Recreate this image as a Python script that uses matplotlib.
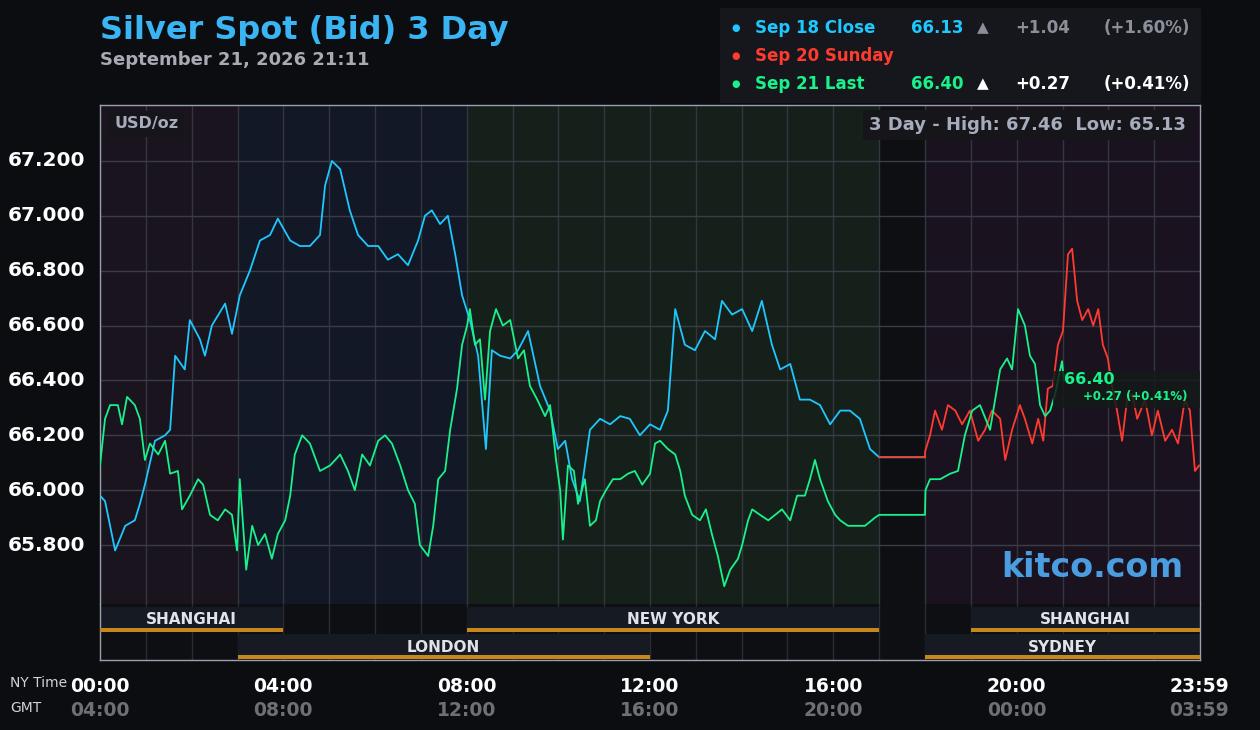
import matplotlib
matplotlib.use("Agg")
import matplotlib.pyplot as plt
import matplotlib.transforms as mtransforms
from matplotlib.patches import Rectangle

# ---------------- data ----------------
blue_t = [0,.11,.33,.55,.76,.87,.98,1.20,1.42,1.53,1.64,1.85,1.96,2.18,2.29,2.44,2.73,2.88,3.05,3.27,
          3.49,3.71,3.88,4.15,4.36,4.58,4.80,4.91,5.06,5.24,5.45,5.63,5.85,6.07,6.28,6.50,6.72,6.94,7.09,7.24,
          7.42,7.59,7.75,7.90,8.07,8.25,8.42,8.55,8.73,8.95,9.12,9.34,9.60,9.82,9.99,10.15,10.30,10.47,10.69,10.91,
          11.13,11.35,11.56,11.78,12.00,12.22,12.39,12.55,12.76,12.98,13.20,13.42,13.57,13.79,14.01,14.23,14.44,14.66,14.84,15.06,
          15.27,15.49,15.71,15.93,16.15,16.36,16.58,16.80,17.00,18.00]
blue_p = [65.98,65.96,65.78,65.87,65.89,65.95,66.02,66.18,66.20,66.22,66.49,66.44,66.62,66.55,66.49,66.60,66.68,66.57,66.71,66.80,
          66.91,66.93,66.99,66.91,66.89,66.89,66.93,67.11,67.20,67.17,67.02,66.93,66.89,66.89,66.84,66.86,66.82,66.91,67.00,67.02,
          66.97,67.00,66.86,66.71,66.62,66.49,66.15,66.51,66.49,66.48,66.51,66.58,66.38,66.29,66.15,66.18,66.04,65.96,66.22,66.26,
          66.24,66.27,66.26,66.20,66.24,66.22,66.29,66.66,66.53,66.51,66.58,66.55,66.69,66.64,66.66,66.58,66.69,66.53,66.44,66.46,
          66.33,66.33,66.31,66.24,66.29,66.29,66.26,66.15,66.12,66.12]

green_t = [0,.11,.22,.39,.48,.59,.76,.87,.98,1.09,1.27,1.42,1.53,1.70,1.79,1.96,2.14,2.25,2.40,2.57,
           2.73,2.88,2.99,3.05,3.19,3.32,3.45,3.60,3.75,3.88,4.04,4.15,4.25,4.41,4.58,4.80,5.02,5.24,5.41,5.56,
           5.72,5.89,6.07,6.22,6.37,6.55,6.72,6.87,6.98,7.16,7.27,7.38,7.53,7.64,7.79,7.90,8.01,8.07,8.18,8.29,
           8.40,8.51,8.64,8.79,8.95,9.12,9.25,9.38,9.54,9.71,9.82,9.95,10.04,10.10,10.21,10.34,10.43,10.58,10.69,10.82,
           10.91,11.04,11.19,11.35,11.52,11.67,11.83,12.00,12.11,12.22,12.39,12.55,12.66,12.76,12.92,13.09,13.22,13.35,13.48,13.62,
           13.75,13.92,14.01,14.14,14.23,14.40,14.58,14.73,14.88,15.06,15.21,15.38,15.49,15.60,15.71,15.88,16.04,16.15,16.32,16.47,
           16.69,16.91,17.00,18.00,18.01,18.11,18.33,18.55,18.72,18.87,19.03,19.20,19.42,19.64,19.79,19.90,20.03,20.18,20.29,20.40,
           20.51,20.62,20.73,20.84,20.90,20.99,21.03]
green_p = [66.09,66.26,66.31,66.31,66.24,66.34,66.31,66.26,66.11,66.17,66.13,66.18,66.06,66.07,65.93,65.98,66.04,66.02,65.91,65.89,
           65.93,65.91,65.78,66.04,65.71,65.87,65.80,65.84,65.75,65.84,65.89,65.98,66.13,66.20,66.17,66.07,66.09,66.13,66.07,66.00,
           66.13,66.09,66.18,66.20,66.17,66.09,66.00,65.95,65.80,65.76,65.87,66.04,66.07,66.22,66.37,66.53,66.60,66.66,66.53,66.55,
           66.33,66.58,66.66,66.60,66.62,66.48,66.51,66.38,66.33,66.27,66.31,66.11,66.00,65.82,66.09,66.07,65.95,66.04,65.87,65.89,
           65.96,66.00,66.04,66.04,66.06,66.07,66.02,66.06,66.17,66.18,66.15,66.13,66.07,65.98,65.91,65.89,65.93,65.84,65.76,65.65,
           65.71,65.75,65.80,65.89,65.93,65.91,65.89,65.91,65.93,65.89,65.98,65.98,66.04,66.11,66.04,65.96,65.91,65.89,65.87,65.87,
           65.87,65.90,65.91,65.91,66.00,66.04,66.04,66.06,66.07,66.20,66.29,66.31,66.22,66.44,66.48,66.44,66.66,66.60,66.49,66.46,
           66.31,66.27,66.29,66.35,66.40,66.47,66.40]

red_t = [18.00,18.11,18.22,18.37,18.50,18.66,18.81,18.98,19.16,19.31,19.46,19.64,19.75,19.90,20.07,20.18,20.34,20.47,20.58,20.68,
         20.79,20.90,21.01,21.12,21.21,21.32,21.43,21.56,21.67,21.78,21.88,21.99,22.08,22.19,22.30,22.41,22.52,22.63,22.80,22.95,
         23.08,23.24,23.39,23.52,23.67,23.78,23.89,23.98]
red_p = [66.14,66.20,66.29,66.22,66.31,66.29,66.24,66.29,66.18,66.22,66.29,66.26,66.11,66.22,66.31,66.26,66.17,66.26,66.18,66.37,
         66.38,66.53,66.58,66.86,66.88,66.69,66.62,66.66,66.60,66.66,66.53,66.48,66.38,66.29,66.18,66.33,66.35,66.26,66.33,66.20,
         66.29,66.18,66.22,66.17,66.33,66.29,66.07,66.09]

y_ticks = [65.8, 66.0, 66.2, 66.4, 66.6, 66.8, 67.0, 67.2]
x_ticks = [0, 4, 8, 12, 16, 20, 23.983]
ny_labels = ["00:00", "04:00", "08:00", "12:00", "16:00", "20:00", "23:59"]
gmt_labels = ["04:00", "08:00", "12:00", "16:00", "20:00", "00:00", "03:59"]
sessions_row1 = [("SHANGHAI", 0, 4), ("NEW YORK", 8, 17), ("SHANGHAI", 19, 24)]
sessions_row2 = [("LONDON", 3, 12), ("SYDNEY", 18, 24)]
bands = [(0, 3, "#1a141f"), (3, 8, "#121826"), (8, 17, "#16201a"), (17, 18, "#0d0f12"), (18, 24, "#1a131f")]

legend_rows = [("Sep 18 Close", "66.13", "\u25B2", "+1.04", "(+1.60%)", "#1ec8ff", "#1ec8ff", "#8a8f99"),
               ("Sep 20 Sunday", "", "", "", "", "#ff3b30", "#ff3b30", "#8a8f99"),
               ("Sep 21 Last", "66.40", "\u25B2", "+0.27", "(+0.41%)", "#19f28a", "#19f28a", "#ffffff")]

BLUE, RED, GREEN = "#1ec8ff", "#ff3b30", "#19f28a"
BG = "#0b0d11"
W, H = 1260, 730

fig = plt.figure(figsize=(12.6, 7.3), dpi=100, facecolor=BG)
ax = fig.add_axes([100 / W, (H - 604) / H, 1100 / W, 499 / H])
sax = fig.add_axes([100 / W, (H - 660) / H, 1100 / W, 56 / H])

ax.set_xlim(0, 24)
ax.set_ylim(65.585, 67.404)
for a0, a1, c in bands:
    ax.axvspan(a0, a1, color=c, zorder=0, lw=0)
for h in range(1, 24):
    ax.axvline(h, color="#34363f", lw=1, zorder=1)
    sax.axvline(h, color="#2a2c33", lw=1, zorder=1)
for v in y_ticks:
    ax.axhline(v, color="#3a3c48", lw=1, zorder=1)

ax.plot(blue_t, blue_p, color=BLUE, lw=1.3, zorder=3)
ax.plot([17, 18] + red_t, [66.12, 66.12] + red_p, color=RED, lw=1.3, zorder=3)
ax.plot(green_t, green_p, color=GREEN, lw=1.3, zorder=4)

ax.set_xticks([]); ax.set_yticks([])
for a in (ax, sax):
    for s in a.spines.values():
        s.set_color("#9aa0b0"); s.set_linewidth(1)
ax.spines["bottom"].set_visible(False)
sax.spines["top"].set_visible(False)

# session bars
sax.set_facecolor("#0d0f12")
sax.set_xlim(0, 24); sax.set_ylim(56, 0)
sax.set_xticks([]); sax.set_yticks([])
for rows, top in ((sessions_row1, 3), (sessions_row2, 30)):
    for name, s0, s1 in rows:
        sax.add_patch(Rectangle((s0, top), s1 - s0, 24, color="#161a22", zorder=2, lw=0))
        sax.add_patch(Rectangle((s0, top + 21), s1 - s0, 3.5, color="#c8871a", zorder=3, lw=0))
        sax.text((s0 + s1) / 2, top + 13, name, color="#e0e4ea", fontsize=11, fontweight="bold",
                 ha="center", va="center", zorder=4)

# y tick labels
tr = mtransforms.blended_transform_factory(fig.transFigure, ax.transData)
for v in y_ticks:
    fig.text(8 / W, v, f"{v:.3f}", transform=tr, color="white", fontsize=14.5, fontweight="bold",
             ha="left", va="center")

# x labels
trx = mtransforms.blended_transform_factory(ax.transData, fig.transFigure)
for t, a, b in zip(x_ticks, ny_labels, gmt_labels):
    fig.text(t, 1 - 686 / H, a, transform=trx, color="white", fontsize=13.5, fontweight="bold", ha="center", va="center")
    fig.text(t, 1 - 711 / H, b, transform=trx, color="#6e7076", fontsize=13.5, fontweight="bold", ha="center", va="center")
fig.text(10 / W, 1 - 683 / H, "NY Time", color="#d0d3da", fontsize=10, va="center")
fig.text(10 / W, 1 - 708 / H, "GMT", color="#d0d3da", fontsize=10, va="center")

# titles
fig.text(100 / W, 1 - 30 / H, "Silver Spot (Bid) 3 Day", color="#3ab4f2", fontsize=23, fontweight="bold", va="center")
fig.text(100 / W, 1 - 60 / H, "September 21, 2026 21:11", color="#a8abb3", fontsize=13, fontweight="bold", va="center")

# legend box
fig.patches.append(Rectangle((720 / W, 1 - 102 / H), 480 / W, 94 / H, transform=fig.transFigure,
                             color="#15171c", zorder=0))
for i, (lab, val, tri, ch, pct, c, vc, cc) in enumerate(legend_rows):
    y = 1 - (28 + 28 * i) / H
    fig.text(736 / W, y, "\u25CF", color=c, fontsize=7, ha="center", va="center")
    fig.text(755 / W, y, lab, color=c, fontsize=12, fontweight="bold", va="center")
    if val:
        fig.text(911 / W, y, val, color=vc, fontsize=12, fontweight="bold", va="center")
        fig.text(983 / W, y, tri, color=cc, fontsize=11, ha="center", va="center")
        fig.text(1070 / W, y, ch, color=cc, fontsize=12, fontweight="bold", ha="right", va="center")
        fig.text(1190 / W, y, pct, color=cc, fontsize=12, fontweight="bold", ha="right", va="center")

# in-chart boxes
ax.text(0.013, 0.962, "USD/oz", transform=ax.transAxes, color="#a6acbb", fontsize=11.5, fontweight="bold",
        va="center", bbox=dict(boxstyle="square,pad=0.35", fc="#17151c", ec="none"))
ax.text(0.987, 0.96, "3 Day - High: 67.46  Low: 65.13", transform=ax.transAxes, color="#a6acbb",
        fontsize=13, fontweight="bold", ha="right", va="center",
        bbox=dict(boxstyle="square,pad=0.35", fc="#15151a", ec="none"))
ax.text(0.985, 0.04, "kitco.com", transform=ax.transAxes, color="#4a9de0", fontsize=24, fontweight="bold",
        ha="right", va="bottom")

# last value label
ax.add_patch(Rectangle((20.8, 66.30), 3.2, 0.135, color="#141a18", alpha=0.85, zorder=5, lw=0))
ax.text(21.03, 66.405, "66.40", color=GREEN, fontsize=11.5, fontweight="bold", va="center", zorder=6)
ax.text(21.45, 66.34, "+0.27 (+0.41%)", color=GREEN, fontsize=8.5, fontweight="bold", va="center", zorder=6)

fig.savefig("out.png", dpi=100, facecolor=BG)
